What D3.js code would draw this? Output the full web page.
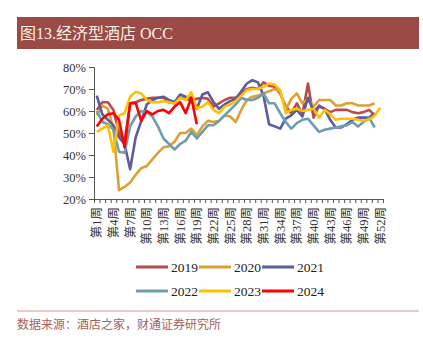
<!DOCTYPE html>
<html>
<head>
<meta charset="utf-8">
<script src="https://cdn.jsdelivr.net/npm/d3@7"></script>
<style>
body { margin:0; background:#fff; }
</style>
</head>
<body>
<div class="chart"></div>
<script>
// weekly occupancy, % (one value per week, null = no data)
var weeks = d3.range(1, 53).map((w) => { return "第" + w + "周"; });
var years = ["2019", "2020", "2021", "2022", "2023", "2024"];
var colors = ["#B84C4A", "#DDA034", "#5A5C9E", "#6E9DAE", "#FFC000", "#FF0000"];
var yTicks = [20, 30, 40, 50, 60, 70, 80];

var occ2019 = [60.5,64,64,60.5,50,46,63.5,64,65,65.5,66,66,66,64,63.5,66,65.5,65,65.5,66,65.5,62,63.5,65,66,66,68,70,70.5,70,73,71.5,71,68,62,59,63.5,58.5,72.5,57,62.5,61,59.5,60.5,60.5,60.5,59.5,59,59.5,60.5,58];
var occ2020 = [58,62.5,61,52,24,25.5,27.5,31,34,35,38,41,43.5,44,46,50,50,52,49,53,55.5,55,55.5,58,57.5,55,60.5,65,66.5,67,68,69,70,69,60.5,65.5,68,63.5,65.5,62,65,65,65,62.5,62.5,63.5,63.5,62.5,62.5,62.5,63.5];
var occ2021 = [67,58.5,56,53.5,48,45,33.5,48,55.5,63,65,66,66.5,65,64,67.5,66.5,66,61,67.5,68.5,64,61,63,64.5,65.5,69,72.5,74,73,67,54,53,52,56.5,58,60.5,57.5,66,60,62,61,56,52.5,52.5,54,56,57,57,57,59];
var occ2022 = [60,55,54,51.5,41.5,41,53,57.5,60,59.5,57.5,53,47.5,45,42.5,45,46.5,50.5,47.5,50.5,53.5,53.5,55.5,58,60.5,63,66,65,65,66,68,63.5,63.5,59,55,52,54.5,56,56.5,53.5,50.5,51.5,52,52.5,53,53.5,55,53,55,57,52.5];
var occ2023 = [50.5,52,53.5,41.5,58,59,66.5,68.7,68,65,64,64,64.5,64,63.4,66,65,68.5,61.2,62,64,60.4,59,62,63,64.5,67,69.5,70,70,71,72.5,72,69.5,59,60.5,61,60,60.5,61,57,60.5,58.5,56,56.5,56.5,56.5,56,55.5,56,58,61.5];
var occ2024 = [53,56.5,58.5,59,56,43.5,63.5,63.7,55.5,60,58.5,60,60.5,59,62,64,59,66,54];
var series = [occ2019, occ2020, occ2021, occ2022, occ2023, occ2024];

var svg = d3.select(".chart")
  .append("svg")
  .attr("width", 423)
  .attr("height", 341);

// title bar
svg.append("rect")
  .attr("x", 17).attr("y", 17)
  .attr("width", 402).attr("height", 32)
  .attr("fill", "#9B4A45");
svg.append("text")
  .attr("x", 20).attr("y", 39)
  .attr("fill", "#FBEFEA")
  .style("font-family", "'Liberation Serif','Noto Sans CJK SC'")
  .style("font-size", "16px")
  .text("图13.经济型酒店 OCC");

var xScale = d3.scaleBand().domain(weeks).range([94, 383]);
var xTickScale = d3.scaleLinear().domain([0, 52]).range([94, 383]);
var yScale = d3.scaleLinear().domain([20, 80]).range([199, 67]);

var xAxis = d3.axisBottom(xScale)
  .tickValues(weeks.filter((d, i) => { return i % 3 == 0; }))
  .tickSize(0);
var xAxisTicks = d3.axisBottom(xTickScale).ticks(52).tickSize(4).tickFormat("");
var yAxis = d3.axisLeft(yScale).tickValues(yTicks).tickSize(5).tickFormat((d) => { return d + "%"; });

svg.append("g")
  .attr("transform", "translate(94,0)")
  .call(yAxis)
  .call((g) => { g.selectAll("line,path").attr("stroke", "#555"); })
  .selectAll("text")
  .attr("fill", "#333")
  .style("font-family", "'Liberation Serif'")
  .style("font-size", "12.5px");

svg.append("g")
  .attr("transform", "translate(0,199)")
  .call(xAxisTicks)
  .call((g) => { g.selectAll("line,path").attr("stroke", "#555"); });

svg.append("g")
  .attr("transform", "translate(0,199)")
  .call(xAxis)
  .call((g) => { g.select("path").remove(); })
  .selectAll("text")
  .attr("transform", "rotate(-90)")
  .attr("x", -8)
  .attr("y", 0)
  .attr("dy", "0.35em")
  .attr("text-anchor", "end")
  .attr("fill", "#333")
  .style("font-family", "'Liberation Serif','Noto Sans CJK SC'")
  .style("font-size", "12.5px");

var line = d3.line()
  .defined((d) => { return d != null; })
  .x((d, i) => { return xScale(weeks[i]) + xScale.bandwidth() / 2; })
  .y((d) => { return yScale(d); });

svg.selectAll(".series")
  .data(series)
  .enter()
  .append("path")
    .attr("class", "series")
    .attr("fill", "none")
    .attr("stroke", (d, i) => { return colors[i]; })
    .attr("stroke-width", 2.6)
    .attr("stroke-linejoin", "round")
    .attr("d", line);

// legend
var legend = svg.selectAll(".legend")
  .data(years)
  .enter()
  .append("g")
    .attr("class", "legend")
    .attr("transform", (d, i) => { return "translate(" + (136 + (i % 3) * 63) + "," + (267 + Math.floor(i / 3) * 24) + ")"; });
legend.append("line")
  .attr("x1", 0).attr("x2", 32)
  .attr("stroke", (d, i) => { return colors[i]; })
  .attr("stroke-width", 3);
legend.append("text")
  .attr("x", 35)
  .attr("dy", "0.35em")
  .attr("fill", "#222")
  .style("font-family", "'Liberation Serif'")
  .style("font-size", "13.5px")
  .text((d) => { return d; });

// source
svg.append("line")
  .attr("x1", 17).attr("x2", 419)
  .attr("y1", 311).attr("y2", 311)
  .attr("stroke", "#C99A98")
  .attr("stroke-width", 1);
svg.append("text")
  .attr("x", 17).attr("y", 329)
  .attr("fill", "#A8605C")
  .style("font-family", "'Noto Sans CJK SC'")
  .style("font-size", "12px")
  .text("数据来源：酒店之家，财通证券研究所");
</script>
</body>
</html>
